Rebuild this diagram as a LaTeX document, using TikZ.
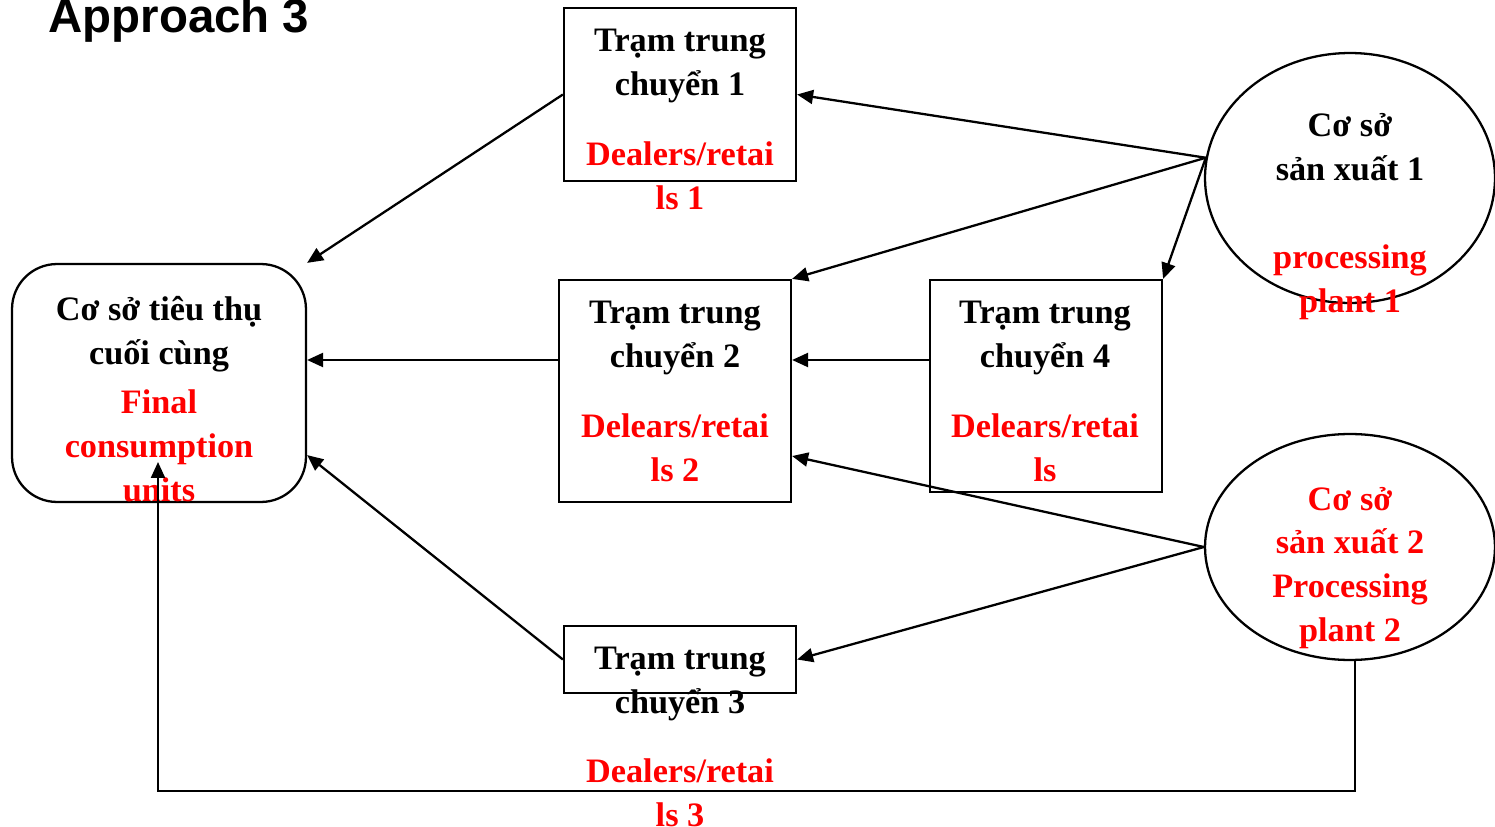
\documentclass[tikz,border=0pt]{standalone}
\usepackage{fontspec}
\setmainfont{Liberation Serif}
\newfontfamily\titlefont{Liberation Sans}
\usepackage{tikz}
\usetikzlibrary{arrows.meta,shapes.geometric,calc}

\begin{document}
\begin{tikzpicture}[
x=0.02cm,y=-0.02cm,
box/.style={draw,line width=1.3pt,inner sep=0pt,minimum width=4.64cm},
plant/.style={draw,ellipse,line width=1.3pt,inner sep=0pt,minimum width=5.8cm},
txt/.style={font=\fontsize{19.5}{25}\selectfont\bfseries,align=center,inner sep=0pt},
redtxt/.style={txt,text=red},
arrow/.style={-{Triangle[length=3.2mm,width=2.8mm]},line width=1.3pt}
]
\useasboundingbox (0,0) rectangle (1495,827);
\node[anchor=base west,font=\titlefont\fontsize{27}{30}\selectfont\bfseries,inner sep=0pt] (title) at (48,33) {Approach 3};

% boxes
\node[box,minimum height=3.46cm] (hub1) at (680,94.5) {};
\node[box,minimum height=4.44cm] (hub2) at (675,391) {};
\node[box,minimum height=1.34cm] (hub3) at (680,659.5) {};
\node[box,minimum height=4.24cm] (hub4) at (1046,386) {};
\node[box,rounded corners=0.9cm,minimum width=5.88cm,minimum height=4.76cm] (final) at (159,383) {};
\node[plant,minimum height=5cm] (plant1) at (1350,178) {};
\node[plant,minimum height=4.52cm] (plant2) at (1350,547) {};

% texts
\node[txt] (hub1a) at (680,66) {Trạm trung\\chuyển 1};
\node[redtxt] (hub1b) at (680,176) {Dealers/retai\\ls 1};
\node[txt] (hub2a) at (675,338) {Trạm trung\\chuyển 2};
\node[redtxt] (hub2b) at (675,448) {Delears/retai\\ls 2};
\node[txt] (hub4a) at (1045,338) {Trạm trung\\chuyển 4};
\node[redtxt] (hub4b) at (1045,448) {Delears/retai\\ls};
\node[txt] (hub3a) at (680,684) {Trạm trung\\chuyển 3};
\node[redtxt] (hub3b) at (680,793) {Dealers/retai\\ls 3};
\node[txt] (finala) at (159,334) {Cơ sở tiêu thụ\\cuối cùng};
\node[redtxt] (finalb) at (159,446) {Final\\consumption\\units};
\node[txt] (plant1a) at (1350,147) {Cơ sở\\sản xuất 1};
\node[redtxt] (plant1b) at (1350,282) {processing\\plant 1};
\node[redtxt] (plant2a) at (1350,568) {Cơ sở\\sản xuất 2\\Processing\\plant 2};

% connectors
\coordinate (mid) at (0,360);
\coordinate (bot) at (1355,791);
\coordinate (tip) at (158,462);
\draw[arrow] (plant1.172)--(hub1.east);
\draw[arrow] (plant1.172)--(hub2.north east);
\draw[arrow] (plant1.172)--(hub4.north east);
\draw[arrow] (hub1.west)--(final.north east);
\draw[arrow] (hub4.west |- mid)--(hub2.east |- mid);
\draw[arrow] (hub2.west |- mid)--(final.east |- mid);
\draw[arrow] (plant2.west)--($(hub2.south east)!0.21!(hub2.north east)$);
\draw[arrow] (plant2.west)--(hub3.east);
\draw[arrow] (hub3.west)--($(final.south east)!0.2!(final.north east)$);
\draw[arrow] (bot |- plant2.south)--(bot)--(tip |- bot)--(tip);
\end{tikzpicture}
\end{document}
